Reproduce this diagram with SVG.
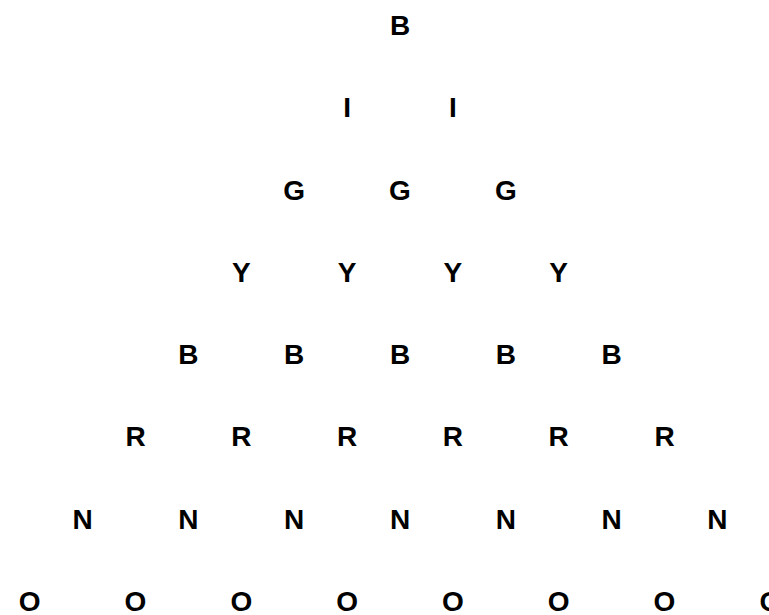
<svg xmlns="http://www.w3.org/2000/svg" width="769" height="615" viewBox="0 0 769 615">
<style>
text{font-family:"Liberation Sans",Arial,sans-serif;font-weight:bold;font-size:28px;fill:#000;text-anchor:middle}
</style>
<rect width="769" height="615" fill="#fff"/>
<g id="row1"><text x="400" y="35">B</text></g>
<g id="row2"><text x="347.1" y="117.3">I</text><text x="452.9" y="117.3">I</text></g>
<g id="row3"><text x="294.2" y="199.6">G</text><text x="400" y="199.6">G</text><text x="505.8" y="199.6">G</text></g>
<g id="row4"><text x="241.3" y="281.9">Y</text><text x="347.1" y="281.9">Y</text><text x="452.9" y="281.9">Y</text><text x="558.7" y="281.9">Y</text></g>
<g id="row5"><text x="188.4" y="364.1">B</text><text x="294.2" y="364.1">B</text><text x="400" y="364.1">B</text><text x="505.8" y="364.1">B</text><text x="611.6" y="364.1">B</text></g>
<g id="row6"><text x="135.5" y="446.4">R</text><text x="241.3" y="446.4">R</text><text x="347.1" y="446.4">R</text><text x="452.9" y="446.4">R</text><text x="558.7" y="446.4">R</text><text x="664.5" y="446.4">R</text></g>
<g id="row7"><text x="82.6" y="528.7">N</text><text x="188.4" y="528.7">N</text><text x="294.2" y="528.7">N</text><text x="400" y="528.7">N</text><text x="505.8" y="528.7">N</text><text x="611.6" y="528.7">N</text><text x="717.4" y="528.7">N</text></g>
<g id="row8"><text x="29.7" y="611">O</text><text x="135.5" y="611">O</text><text x="241.3" y="611">O</text><text x="347.1" y="611">O</text><text x="452.9" y="611">O</text><text x="558.7" y="611">O</text><text x="664.5" y="611">O</text><text x="770.3" y="611">O</text></g>
</svg>
